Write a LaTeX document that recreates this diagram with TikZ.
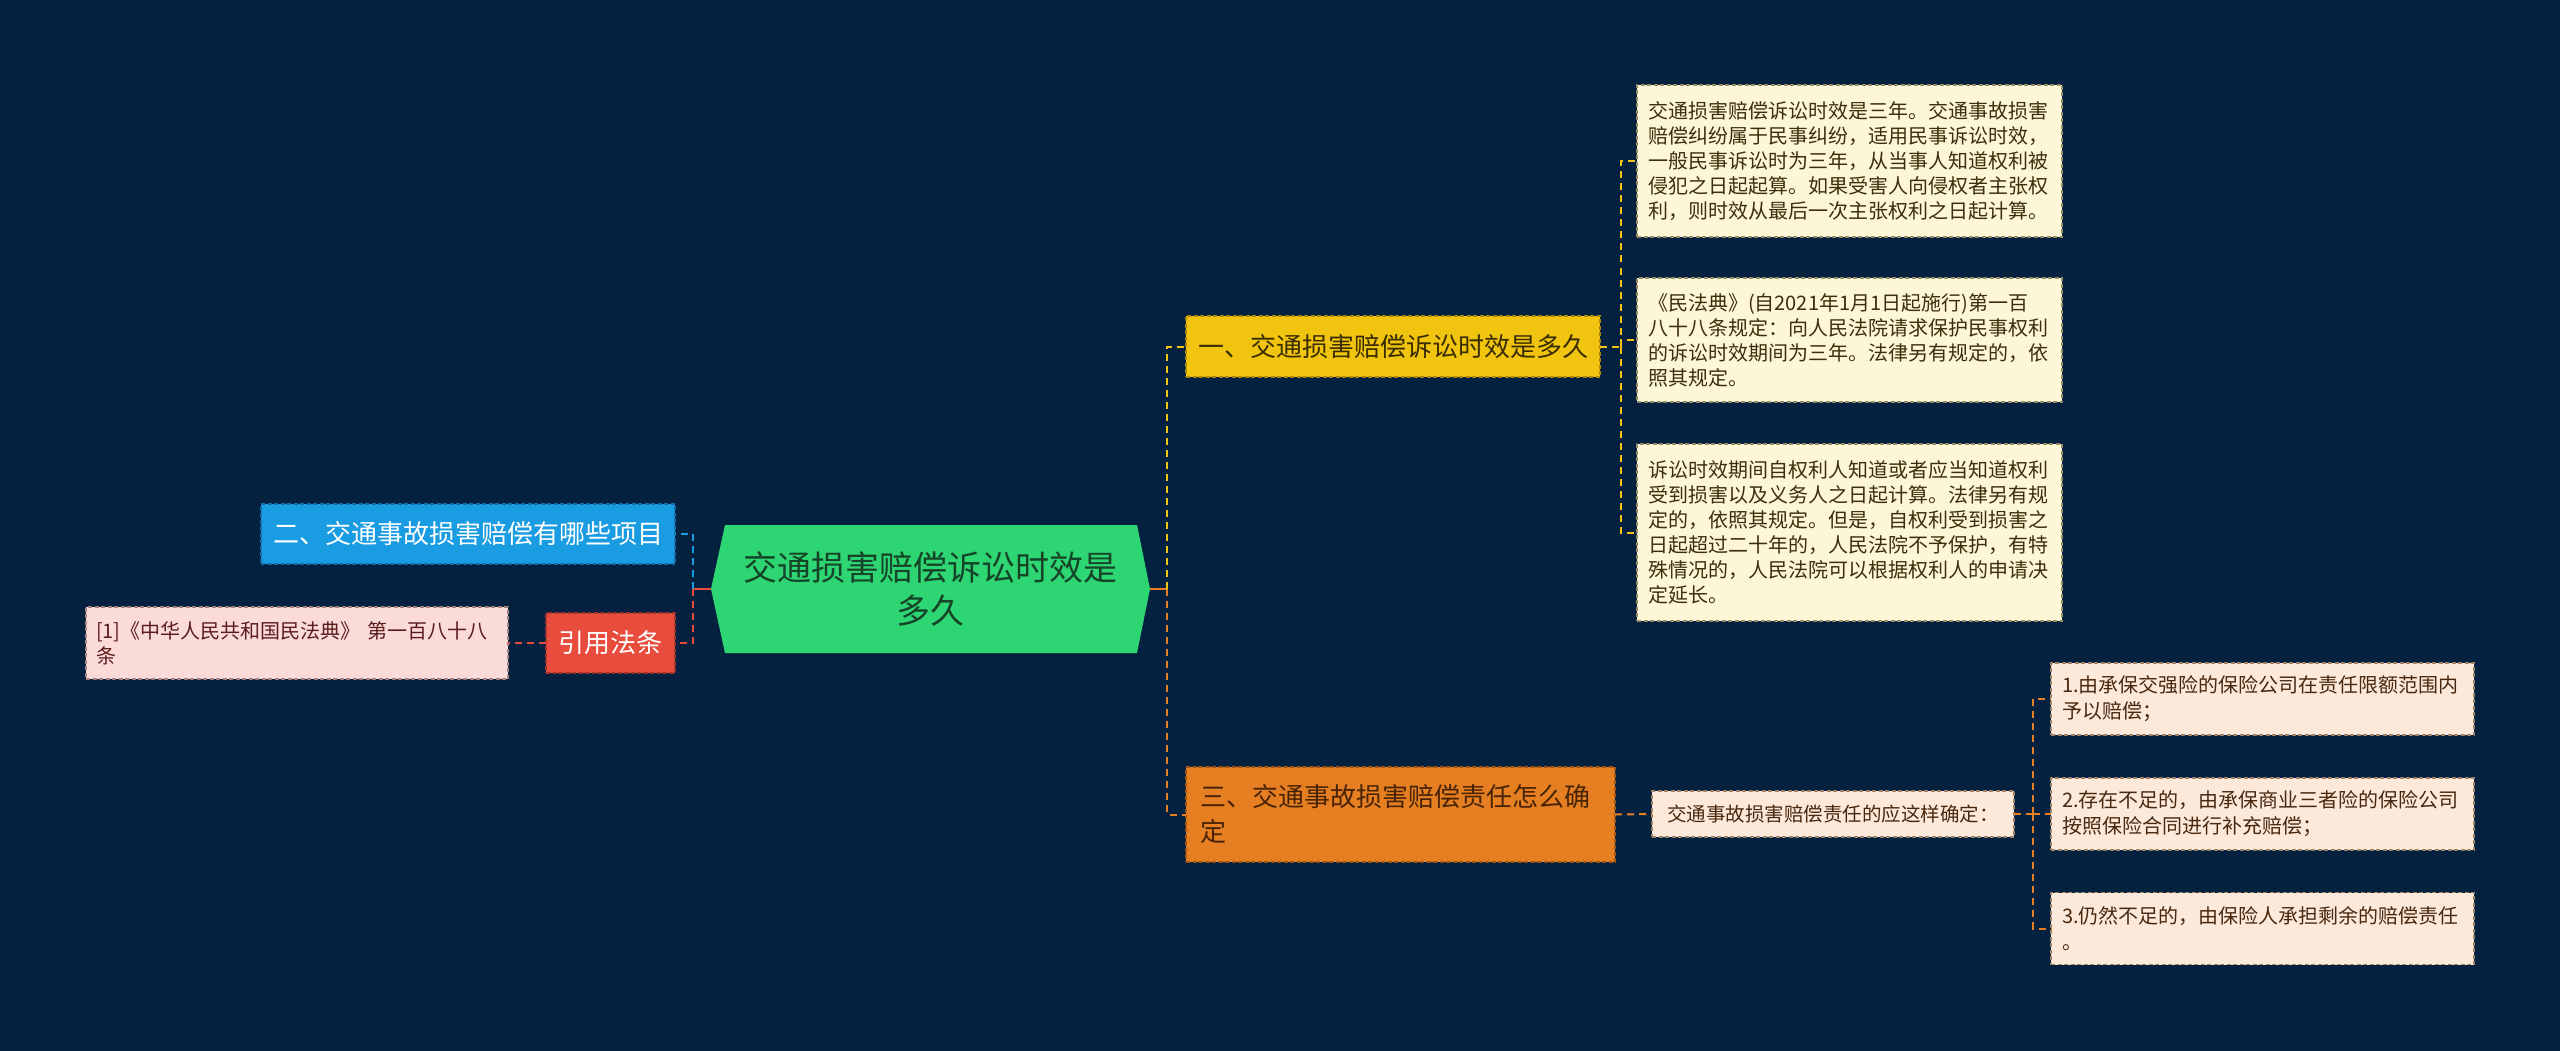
\documentclass[tikz,border=0pt]{standalone}
\usepackage{fontspec}
\setmainfont{Noto Sans CJK SC}
\definecolor{bgc}{RGB}{4,33,63}
\definecolor{cgreen}{RGB}{46,213,115}
\definecolor{ctext}{RGB}{22,68,40}
\definecolor{yel}{RGB}{241,196,15}
\definecolor{yeld}{RGB}{170,135,10}
\definecolor{yelt}{RGB}{58,45,0}
\definecolor{ora}{RGB}{230,126,34}
\definecolor{orad}{RGB}{160,85,20}
\definecolor{orat}{RGB}{72,36,5}
\definecolor{blu}{RGB}{25,156,226}
\definecolor{blud}{RGB}{18,110,165}
\definecolor{red1}{RGB}{231,76,60}
\definecolor{redd}{RGB}{165,50,40}
\definecolor{creamf}{RGB}{253,246,215}
\definecolor{creamd}{RGB}{150,140,100}
\definecolor{creamt}{RGB}{58,48,10}
\definecolor{peachf}{RGB}{252,233,218}
\definecolor{peachd}{RGB}{160,130,105}
\definecolor{peacht}{RGB}{72,40,15}
\definecolor{pinkf}{RGB}{250,219,216}
\definecolor{pinkd}{RGB}{165,130,128}
\definecolor{pinkt}{RGB}{92,28,28}
\begin{document}
\begin{tikzpicture}[x=1pt,y=-1pt,
  box/.style={rectangle, inner sep=0pt, outer sep=0pt, line width=1.5pt, dash pattern=on 4pt off 2.5pt},
  conn/.style={line width=2pt, dash pattern=on 7pt off 5pt},
  leaffont/.style={font=\fontsize{20pt}{25pt}\selectfont},
  bigfont/.style={font=\fontsize{26pt}{35pt}\selectfont},
  upleaf/.style={box, draw=creamd, fill=creamf, text=creamt, minimum width=425pt, text width=403pt, align=left, leaffont},
  rtleaf/.style={box, draw=peachd, fill=peachf, text=peacht, minimum width=423pt, minimum height=72pt, text width=401pt, align=left, font=\fontsize{20pt}{26pt}\selectfont}
]
\useasboundingbox (0,0) rectangle (2560,1051);
\fill[bgc] (0,0) rectangle (2560,1051);

% central hexagon
\node[rectangle, inner sep=0pt, outer sep=0pt, minimum width=439pt, minimum height=128pt] (c) at (930.5,589) {};
\fill[cgreen] (c.west) -- ([xshift=14pt]c.north west) -- ([xshift=-13pt]c.north east) -- (c.east) -- ([xshift=-13pt]c.south east) -- ([xshift=14pt]c.south west) -- cycle;
\node[text=ctext, align=center, font=\fontsize{34pt}{43pt}\selectfont] (ct) at (c.center) {交通损害赔偿诉讼时效是\\多久};

% branch nodes
\node[box, draw=yeld, fill=yel, text=yelt, minimum width=414pt, minimum height=61pt, bigfont] (b1) at (1393,346.5) {一、交通损害赔偿诉讼时效是多久};
\node[box, draw=orad, fill=ora, text=orat, minimum width=429pt, minimum height=95pt, text width=401pt, align=left, bigfont] (b3) at (1400.5,814.5) {三、交通事故损害赔偿责任怎么确\\定};
\node[box, draw=blud, fill=blu, text=white, minimum width=414pt, minimum height=60pt, bigfont] (b2) at (468,534) {二、交通事故损害赔偿有哪些项目};
\node[box, draw=redd, fill=red1, text=white, minimum width=129pt, minimum height=60pt, bigfont] (r) at (610.5,643) {引用法条};
\node[box, draw=pinkd, fill=pinkf, text=pinkt, minimum width=422pt, minimum height=72pt, text width=402pt, align=left, leaffont] (p) at (297,643) {[1]《中华人民共和国民法典》 第一百八十八\\条};

% upper leaves
\node[upleaf, minimum height=152pt] (L1) at (1849.5,161) {交通损害赔偿诉讼时效是三年。交通事故损害\\赔偿纠纷属于民事纠纷，适用民事诉讼时效，\\一般民事诉讼时为三年，从当事人知道权利被\\侵犯之日起起算。如果受害人向侵权者主张权\\利，则时效从最后一次主张权利之日起计算。};
\node[upleaf, minimum height=124pt] (L2) at (1849.5,340) {《民法典》(自2021年1月1日起施行)第一百\\八十八条规定：向人民法院请求保护民事权利\\的诉讼时效期间为三年。法律另有规定的，依\\照其规定。};
\node[upleaf, minimum height=177pt] (L3) at (1849.5,532.5) {诉讼时效期间自权利人知道或者应当知道权利\\受到损害以及义务人之日起计算。法律另有规\\定的，依照其规定。但是，自权利受到损害之\\日起超过二十年的，人民法院不予保护，有特\\殊情况的，人民法院可以根据权利人的申请决\\定延长。};

% middle node of branch 3
\node[box, draw=peachd, fill=peachf, text=peacht, minimum width=362pt, minimum height=46pt, font=\fontsize{19.5pt}{24pt}\selectfont] (m) at (1833,814) {交通事故损害赔偿责任的应这样确定：};

% right leaves
\node[rtleaf] (R1) at (2262.5,699) {1.由承保交强险的保险公司在责任限额范围内\\予以赔偿；};
\node[rtleaf] (R2) at (2262.5,814) {2.存在不足的，由承保商业三者险的保险公司\\按照保险合同进行补充赔偿；};
\node[rtleaf] (R3) at (2262.5,928.5) {3.仍然不足的，由保险人承担剩余的赔偿责任\\。};

% junctions
\coordinate (jr) at (1167,589);
\coordinate (j1) at (1621,346.5);
\coordinate (j3) at (2033,814);
\coordinate (jl) at (693,589);

% connectors right of centre
\draw[ora, line width=2pt] (c.east) -- (jr);
\draw[conn, yel] (jr) |- (b1.west);
\draw[conn, ora] (jr) |- (b3.west);
\draw[conn, yel] (b1.east) -- (j1);
\draw[conn, yel] (j1) |- (L1.west);
\draw[conn, yel] (j1) |- (L2.west);
\draw[conn, yel] (j1) |- (L3.west);
\draw[conn, ora] (b3.east) -- (m.west);
\draw[conn, ora] (m.east) -- (j3);
\draw[conn, ora] (j3) |- (R1.west);
\draw[conn, ora] (j3) |- (R2.west);
\draw[conn, ora] (j3) |- (R3.west);

% connectors left of centre
\draw[red1, line width=2pt] (c.west) -- (jl);
\draw[conn, blu] (jl) |- (b2.east);
\draw[conn, red1] (jl) |- (r.east);
\draw[conn, red1] (r.west) -- (p.east);
\end{tikzpicture}
\end{document}
